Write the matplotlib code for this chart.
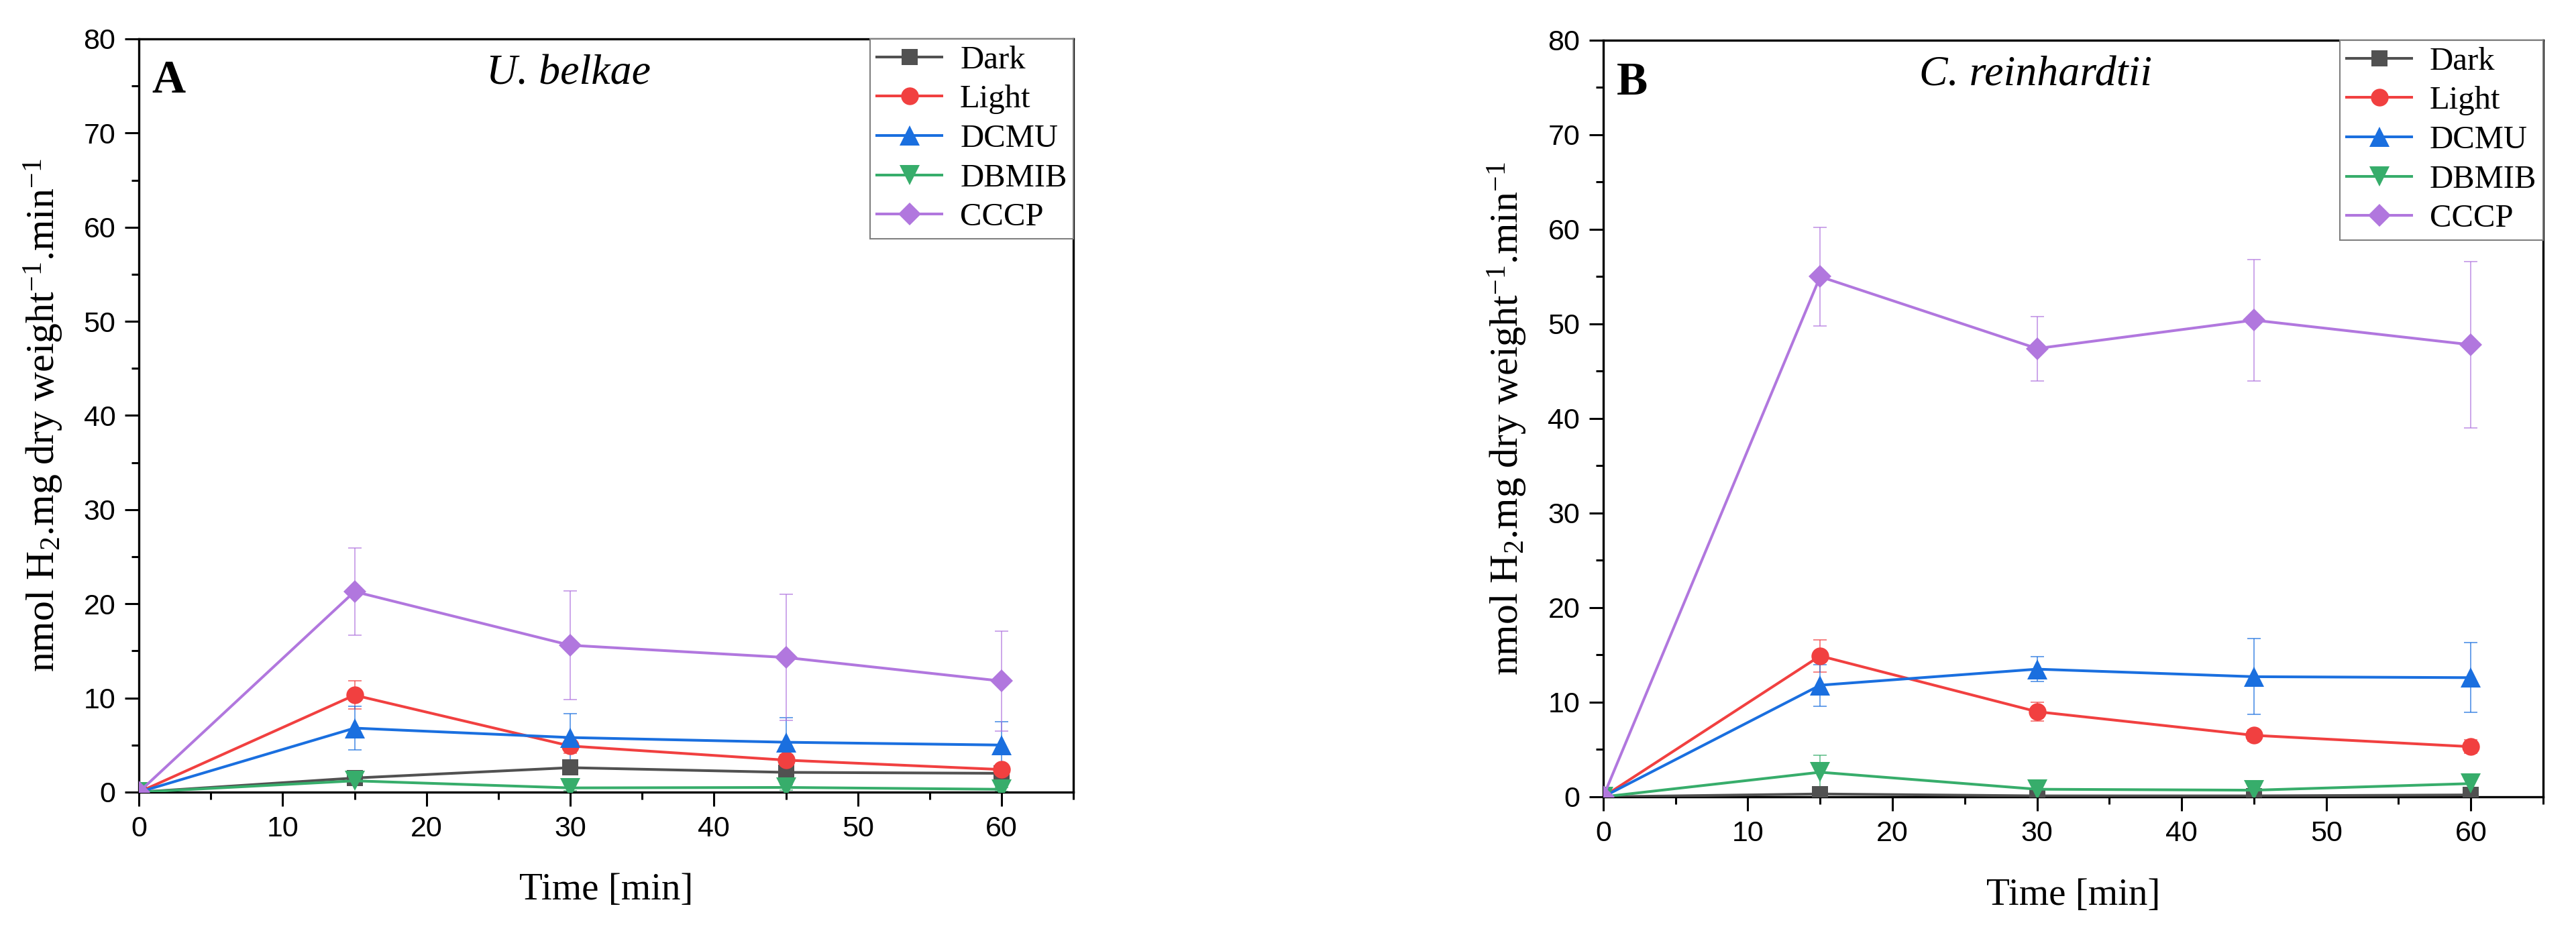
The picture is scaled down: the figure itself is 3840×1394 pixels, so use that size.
import numpy as np
import matplotlib
matplotlib.use('Agg')
import matplotlib.pyplot as plt
from matplotlib.ticker import MultipleLocator

##################################################################################################################################
# data (nmol H2 . mg dry weight^-1 . min^-1)
##################################################################################################################################
timePoints = [0, 15, 30, 45, 60]
seriesNames = ['Dark', 'Light', 'DCMU', 'DBMIB', 'CCCP']

# panel A - U. belkae
belkaeDark = [0, 1.5, 2.6, 2.1, 2.0]
belkaeDarkErr = [0, 0.3, 0.7, 0.6, 0.5]
belkaeLight = [0, 10.3, 4.9, 3.4, 2.4]
belkaeLightErr = [0, 1.5, 0.8, 0.6, 0.4]
belkaeDCMU = [0, 6.8, 5.8, 5.3, 5.0]
belkaeDCMUErr = [0, 2.3, 2.5, 2.6, 2.5]
belkaeDBMIB = [0, 1.2, 0.45, 0.5, 0.3]
belkaeDBMIBErr = [0, 0.3, 0.3, 0.3, 0.2]
belkaeCCCP = [0, 21.3, 15.6, 14.3, 11.8]
belkaeCCCPErr = [0, 4.6, 5.8, 6.7, 5.3]

# panel B - C. reinhardtii
reinhardtiiDark = [0, 0.3, 0.1, 0.1, 0.2]
reinhardtiiDarkErr = [0, 0.2, 0.1, 0.1, 0.2]
reinhardtiiLight = [0, 14.9, 9.0, 6.5, 5.3]
reinhardtiiLightErr = [0, 1.7, 1.0, 0.6, 0.7]
reinhardtiiDCMU = [0, 11.8, 13.5, 12.7, 12.6]
reinhardtiiDCMUErr = [0, 2.2, 1.3, 4.0, 3.7]
reinhardtiiDBMIB = [0, 2.6, 0.8, 0.7, 1.4]
reinhardtiiDBMIBErr = [0, 1.8, 0.5, 0.4, 0.6]
reinhardtiiCCCP = [0, 55.0, 47.4, 50.4, 47.8]
reinhardtiiCCCPErr = [0, 5.2, 3.4, 6.4, 8.8]

# Origin style colours and symbols
seriesColors = ['#515151', '#F14040', '#1A6FDF', '#37AD6B', '#B177DE']
seriesMarkers = ['s', 'o', '^', 'v', 'D']
seriesMarkerSizes = [17, 19, 21, 21, 17]

SERIF = 'Liberation Serif'
SANS = 'Liberation Sans'

plt.rcParams['mathtext.fontset'] = 'custom'
plt.rcParams['mathtext.rm'] = SERIF
plt.rcParams['mathtext.it'] = SERIF + ':italic'
plt.rcParams['mathtext.bf'] = SERIF + ':bold'

##################################################################################################################################
#
##################################################################################################################################
def DrawPanel(ax, means, errors, panelLetter, speciesName):

    for name, y, err, color, marker, ms in zip(seriesNames, means, errors, seriesColors, seriesMarkers, seriesMarkerSizes):
        ax.plot(timePoints, y, color=color, lw=2.9, marker=marker, ms=ms,
                markeredgewidth=0, label=name, zorder=3)
        # no error bar on the starting point
        ax.errorbar(timePoints[1:], y[1:], yerr=err[1:], fmt='none', ecolor=color,
                    elinewidth=1.3, capsize=7.5, capthick=1.3, alpha=0.7, zorder=2)

    ax.set_xlim(0, 65)
    ax.set_ylim(0, 80)
    ax.xaxis.set_major_locator(MultipleLocator(10))
    ax.xaxis.set_minor_locator(MultipleLocator(5))
    ax.yaxis.set_major_locator(MultipleLocator(10))
    ax.yaxis.set_minor_locator(MultipleLocator(5))
    ax.tick_params(which='major', direction='out', length=15, width=2.2, pad=10, labelsize=31)
    ax.tick_params(which='minor', direction='out', length=8, width=2.2)
    for label in ax.get_xticklabels() + ax.get_yticklabels():
        label.set_family(SANS)
    for spine in ax.spines.values():
        spine.set_linewidth(2.4)

    ax.set_xlabel('Time [min]', family=SERIF, fontsize=41)
    ax.set_ylabel(r'nmol H$_2$.mg dry weight$^{-1}$.min$^{-1}$', family=SERIF, fontsize=43)
    ax.xaxis.set_label_coords(0.5, -0.107)
    ax.yaxis.set_label_coords(-0.079, 0.5)

    ax.text(0.014, 0.972, panelLetter, transform=ax.transAxes, family=SERIF,
            fontweight='bold', fontsize=50, ha='left', va='top')
    ax.text(0.46, 0.953, speciesName, transform=ax.transAxes, family=SERIF,
            style='italic', fontsize=46, ha='center', va='center')

    leg = ax.legend(loc='upper right', borderaxespad=0, fancybox=False, framealpha=1,
                    edgecolor='#7f7f7f', prop={'family': SERIF, 'size': 35},
                    handlelength=2.0, handletextpad=0.55, borderpad=0.2, labelspacing=0.3)
    leg.get_frame().set_linewidth(1.5)

##################################################################################################################################
#
##################################################################################################################################
fig = plt.figure(figsize=(38.41, 13.94), dpi=100)
axA = fig.add_axes([0.0539, 0.1528, 0.3627, 0.8056])
axB = fig.add_axes([0.6222, 0.1478, 0.3648, 0.8092])

DrawPanel(axA,
          [belkaeDark, belkaeLight, belkaeDCMU, belkaeDBMIB, belkaeCCCP],
          [belkaeDarkErr, belkaeLightErr, belkaeDCMUErr, belkaeDBMIBErr, belkaeCCCPErr],
          'A', 'U. belkae')
DrawPanel(axB,
          [reinhardtiiDark, reinhardtiiLight, reinhardtiiDCMU, reinhardtiiDBMIB, reinhardtiiCCCP],
          [reinhardtiiDarkErr, reinhardtiiLightErr, reinhardtiiDCMUErr, reinhardtiiDBMIBErr, reinhardtiiCCCPErr],
          'B', 'C. reinhardtii')

fig.savefig('out.png', dpi=100)
plt.close(fig)
